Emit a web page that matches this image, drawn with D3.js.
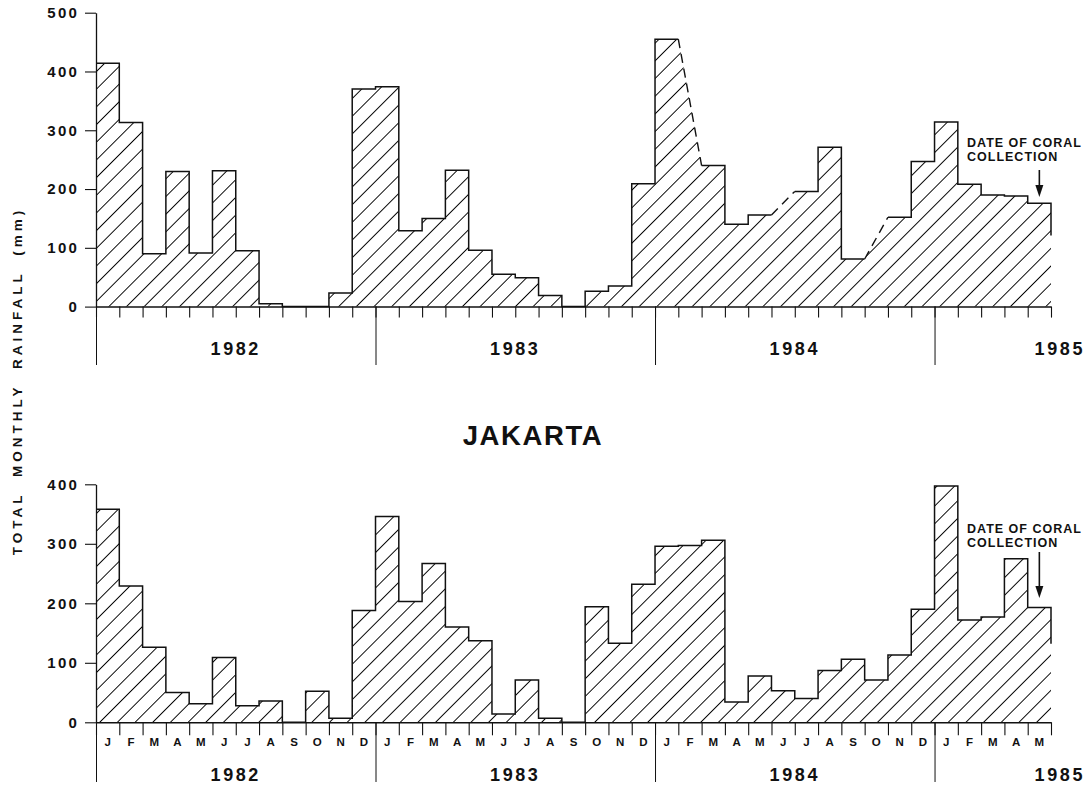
<!DOCTYPE html>
<html>
<head>
<meta charset="utf-8">
<script src="https://cdn.jsdelivr.net/npm/d3@7"></script>
<style>
  html, body { margin: 0; padding: 0; background: #fff; }
  svg { display: block; font-family: "Liberation Sans", Arial, Helvetica, sans-serif; }
</style>
</head>
<body>
<svg id="chart" width="1088" height="785"></svg>
<script>
// ---- data -------------------------------------------------------------
const years = ["1982", "1983", "1984", "1985"];
const monthLetters = ["J", "F", "M", "A", "M", "J", "J", "A", "S", "O", "N", "D"];
// Jan 1982 .. May 1985 (41 months)
const months = [];
years.forEach((yr, yi) => {
  const n = yi < 3 ? 12 : 5;
  for (let m = 0; m < n; m++) months.push(yr + "-" + String(m + 1).padStart(2, "0"));
});

// total monthly rainfall (mm); null = month without a record
const upperRain = [
  414, 313, 90, 230, 91, 231, 95, 5, 0, 0, 23, 370,
  374, 129, 150, 232, 96, 55, 49, 19, 0, 26, 35, 209,
  455, null, 240, 140, 156, null, 196, 271, 81, null, 152, 247,
  314, 208, 190, 188, 176
];
const jakartaRain = [
  358, 229, 126, 50, 31, 109, 28, 36, 0, 52, 7, 188,
  346, 203, 267, 160, 137, 14, 71, 7, 0, 194, 133, 232,
  296, 297, 306, 34, 78, 53, 40, 87, 106, 71, 113, 190,
  397, 172, 177, 275, 193
];
const upperTicks = [0, 100, 200, 300, 400, 500];
const lowerTicks = [0, 100, 200, 300, 400];
// where the right-hand edge of each histogram stops (mm)
const edgeStop = [121, 132];

// ---- layout -----------------------------------------------------------
const svg = d3.select("#chart");
const ink = "#111";
const xIdx = d3.scaleLinear().domain([0, months.length]).range([96, 1051]);
const xBand = d3.scaleBand().domain(months).range([96, 1051]).padding(0);

const panels = [
  { id: "upper", values: upperRain, ticks: upperTicks, yRange: [306.6, 12.7], yMax: 500,
    tickLen: 11, yearLineEnd: 365, yearLabelY: 355, showMonths: false,
    hatch: 12.5, noteY: 147, arrow: [170, 197], tail: edgeStop[0] },
  { id: "lower", values: jakartaRain, ticks: lowerTicks, yRange: [722.3, 484.3], yMax: 400,
    tickLen: 13, yearLineEnd: 782, yearLabelY: 781, showMonths: true, monthY: 745.5,
    hatch: 12.5, noteY: 533, arrow: [552, 598], tail: edgeStop[1] }
];

const defs = svg.append("defs");

panels.forEach(p => {
  const y = d3.scaleLinear().domain([0, p.yMax]).range(p.yRange);
  const g = svg.append("g").attr("class", p.id);

  // diagonal hatch fill
  const pat = defs.append("pattern")
    .attr("id", "hatch-" + p.id)
    .attr("patternUnits", "userSpaceOnUse")
    .attr("width", p.hatch).attr("height", p.hatch)
    .attr("patternTransform", "rotate(45)");
  pat.append("line")
    .attr("x1", p.hatch / 2).attr("x2", p.hatch / 2)
    .attr("y1", -1).attr("y2", p.hatch + 1)
    .attr("stroke", "#000").attr("stroke-width", 0.95);

  // step outline points: each recorded month contributes a flat top
  const pts = [];
  p.values.forEach((v, i) => {
    if (v == null) { pts.push({ gap: true }); return; }
    pts.push({ i, v }, { i: i + 1, v });
  });
  const filled = pts.filter(d => !d.gap);

  const area = d3.area()
    .x(d => xIdx(d.i)).y0(y(0)).y1(d => y(d.v));
  g.append("path")
    .datum(filled)
    .attr("d", area)
    .attr("fill", "url(#hatch-" + p.id + ")")
    .attr("stroke", "none");

  // solid outline with the short closing edge on the right
  const outline = pts.concat([{ i: months.length, v: p.tail }]);
  const line = d3.line().defined(d => !d.gap).x(d => xIdx(d.i)).y(d => y(d.v));
  g.append("path")
    .datum(outline)
    .attr("d", line)
    .attr("fill", "none")
    .attr("stroke", ink)
    .attr("stroke-width", 1.5)
    .attr("stroke-linejoin", "miter");

  // dashed bridges across months without a record
  p.values.forEach((v, i) => {
    if (v != null) return;
    g.append("line")
      .attr("x1", xIdx(i)).attr("y1", y(p.values[i - 1]))
      .attr("x2", xIdx(i + 1)).attr("y2", y(p.values[i + 1]))
      .attr("stroke", ink).attr("stroke-width", 1.4)
      .attr("stroke-dasharray", "9,6");
  });

  // y axis
  const yAxis = d3.axisLeft(y)
    .tickValues(p.ticks)
    .tickSize(11).tickSizeOuter(0).tickPadding(6)
    .tickFormat(d3.format("d"));
  const ya = g.append("g").attr("transform", "translate(96,0)").call(yAxis);
  ya.select(".domain").attr("stroke", ink).attr("stroke-width", 1.3);
  ya.selectAll(".tick line").attr("stroke", ink).attr("stroke-width", 1.1);
  ya.selectAll(".tick text")
    .attr("fill", ink)
    .attr("font-size", 15).attr("font-weight", "bold")
    .attr("letter-spacing", "2.2px");

  // x axis: month boundaries
  const xAxis = d3.axisBottom(xIdx)
    .tickValues(d3.range(0, months.length + 1))
    .tickSize(p.tickLen).tickSizeOuter(0).tickFormat("");
  const xa = g.append("g").attr("transform", `translate(0,${y(0)})`).call(xAxis);
  xa.select(".domain").attr("stroke", ink).attr("stroke-width", 1.5);
  xa.selectAll(".tick line").attr("stroke", ink).attr("stroke-width", 1.1);

  // year dividers
  const yearAxis = d3.axisBottom(xIdx)
    .tickValues([0, 12, 24, 36])
    .tickSize(p.yearLineEnd - y(0)).tickSizeOuter(0).tickFormat("");
  const yl = g.append("g").attr("transform", `translate(0,${y(0)})`).call(yearAxis);
  yl.select(".domain").remove();
  yl.selectAll(".tick line").attr("stroke", ink).attr("stroke-width", 1);

  // month initials
  if (p.showMonths) {
    const mAxis = d3.axisBottom(xBand)
      .tickSize(0).tickPadding(0)
      .tickFormat(d => monthLetters[+d.slice(5) - 1]);
    const ma = g.append("g").attr("transform", `translate(0,${p.monthY})`).call(mAxis);
    ma.select(".domain").remove();
    ma.selectAll(".tick text")
      .attr("dy", 0).attr("y", 0)
      .attr("fill", ink).attr("font-size", 11.5).attr("font-weight", "bold");
  }

  // year labels
  years.forEach((yr, yi) => {
    const last = yi === years.length - 1;
    g.append("text")
      .attr("x", last ? 1085 : (xIdx(yi * 12) + xIdx(yi * 12 + 12)) / 2)
      .attr("y", p.yearLabelY)
      .attr("text-anchor", last ? "end" : "middle")
      .attr("fill", ink)
      .attr("font-size", 18).attr("font-weight", "bold")
      .attr("letter-spacing", "2.6px")
      .text(yr);
  });

  // collection-date note and arrow
  const lastMonth = months[months.length - 1];
  const ax = xBand(lastMonth) + xBand.bandwidth() / 2;
  const note = g.append("text")
    .attr("x", 967).attr("y", p.noteY)
    .attr("fill", ink).attr("font-size", 12.5).attr("font-weight", "bold")
    .attr("letter-spacing", "1px");
  note.append("tspan").attr("x", 967).text("DATE OF CORAL");
  note.append("tspan").attr("x", 967).attr("dy", 13.5).text("COLLECTION");
  g.append("line")
    .attr("x1", ax).attr("x2", ax)
    .attr("y1", p.arrow[0]).attr("y2", p.arrow[1] - 8)
    .attr("stroke", ink).attr("stroke-width", 1.6);
  g.append("path")
    .attr("d", d3.line()([[ax - 4, p.arrow[1] - 12], [ax + 4, p.arrow[1] - 12], [ax, p.arrow[1]]]) + "Z")
    .attr("fill", ink);
});

// titles
svg.append("text")
  .attr("x", 533).attr("y", 445)
  .attr("text-anchor", "middle")
  .attr("fill", ink)
  .attr("font-size", 27.5).attr("font-weight", "bold")
  .attr("letter-spacing", "1.6px")
  .text("JAKARTA");

svg.append("text")
  .attr("transform", "translate(22,381) rotate(-90)")
  .attr("text-anchor", "middle")
  .attr("fill", ink)
  .attr("font-size", 13.5).attr("font-weight", "bold")
  .attr("letter-spacing", "4px")
  .attr("word-spacing", "7px")
  .text("TOTAL MONTHLY RAINFALL (mm)");
</script>
</body>
</html>
